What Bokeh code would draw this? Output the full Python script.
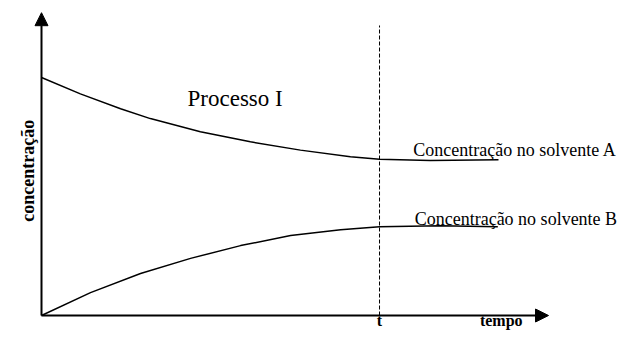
from bokeh.plotting import figure
from bokeh.models import Range1d, Arrow, NormalHead, Label
from bokeh.embed import file_html
from bokeh.resources import INLINE
import math

# ---- data (time units, concentration units) ----
tempo_A = [0, 1.15, 2.34, 3.22, 4.70, 6.18, 7.66, 9.14, 10.0, 11.5, 13.52]
conc_A = [8.0, 7.45, 6.95, 6.62, 6.18, 5.84, 5.56, 5.34, 5.25, 5.21, 5.24]

tempo_B = [0, 1.45, 2.93, 4.41, 5.89, 7.37, 8.85, 10.0, 11.8, 13.5]
conc_B = [0, 0.77, 1.41, 1.92, 2.35, 2.69, 2.88, 2.98, 3.02, 2.98]

t_mark = 10.0
x_axis_end = 15.0
y_axis_end = 10.18
dash_top = 9.75

label_A = "Concentração no solvente A"
label_B = "Concentração no solvente B"
title_text = "Processo I"
x_label = "tempo"
t_label = "t"
y_label = "concentração"

p = figure(width=618, height=330, output_backend="svg", toolbar_location=None,
           x_range=Range1d(-1.213, 17.07), y_range=Range1d(-0.504, 10.59),
           min_border=0)
p.axis.visible = False
p.grid.visible = False
p.outline_line_color = None
p.background_fill_color = "white"
p.border_fill_color = "white"

# curves
p.line(tempo_A, conc_A, line_color="black", line_width=1.5)
p.line(tempo_B, conc_B, line_color="black", line_width=1.5)

# dashed line at t
p.segment(x0=[t_mark], y0=[0], x1=[t_mark], y1=[dash_top], line_color="black",
          line_width=1, line_dash="4 2")

# axes with arrows
p.add_layout(Arrow(end=NormalHead(size=13, fill_color="black", line_color="black"),
                   x_start=0, y_start=0, x_end=0, y_end=y_axis_end,
                   line_width=2, line_color="black"))
p.add_layout(Arrow(end=NormalHead(size=13, fill_color="black", line_color="black"),
                   x_start=0, y_start=0, x_end=x_axis_end, y_end=0,
                   line_width=2, line_color="black"))

serif = "Liberation Serif"
p.add_layout(Label(x=4.32, y=7.29, text=title_text, text_font=serif,
                   text_font_size="23px", text_baseline="alphabetic", text_color="black"))
p.add_layout(Label(x=11.0, y=5.58, text=label_A, text_font=serif,
                   text_font_size="18px", text_baseline="alphabetic", text_color="black"))
p.add_layout(Label(x=11.04, y=3.26, text=label_B, text_font=serif,
                   text_font_size="18px", text_baseline="alphabetic", text_color="black"))
p.add_layout(Label(x=t_mark, y=-0.45, text=t_label, text_font=serif, text_font_style="bold",
                   text_font_size="16px", text_baseline="bottom", text_align="center",
                   text_color="black"))
p.add_layout(Label(x=13.6, y=-0.45, text=x_label, text_font=serif, text_font_style="bold",
                   text_font_size="16px", text_baseline="bottom", text_align="center",
                   text_color="black"))
p.add_layout(Label(x=-0.414, y=4.87, text=y_label, text_font=serif, text_font_style="bold",
                   text_font_size="18px", text_baseline="middle", text_align="center",
                   angle=math.pi / 2, text_color="black"))

open("out.html", "w").write(file_html(p, INLINE))
